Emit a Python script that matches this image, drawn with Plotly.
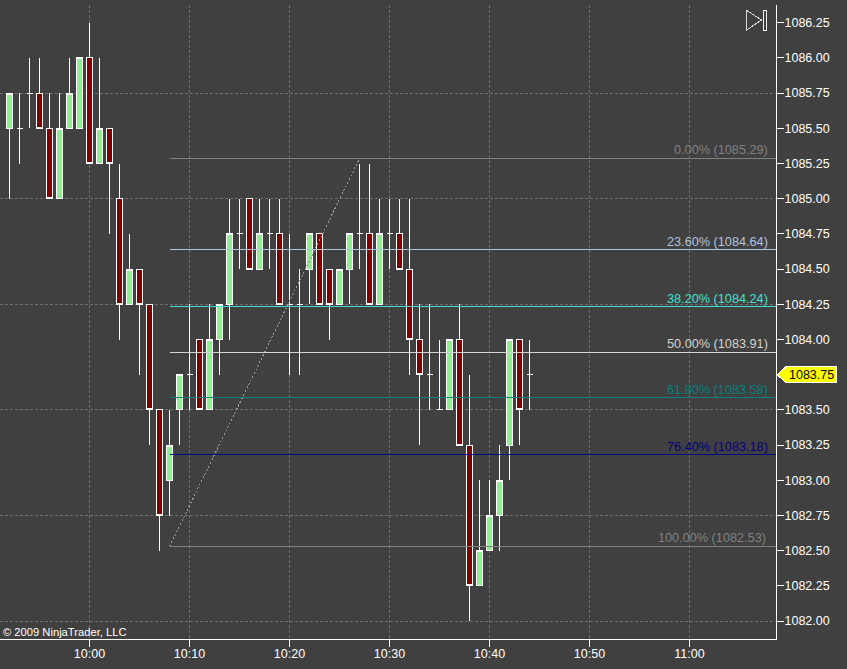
import plotly.graph_objects as go

BG = "#404040"
GRID = "#6e6e6e"
FONT = "Liberation Sans"
DAY = "2009-01-05 "

times = ["09:52","09:53","09:54","09:55","09:56","09:57","09:58","09:59",
         "10:00","10:01","10:02","10:03","10:04","10:05","10:06","10:07","10:08","10:09",
         "10:10","10:11","10:12","10:13","10:14","10:15","10:16","10:17","10:18","10:19",
         "10:20","10:21","10:22","10:23","10:24","10:25","10:26","10:27","10:28","10:29",
         "10:30","10:31","10:32","10:33","10:34","10:35","10:36","10:37","10:38","10:39",
         "10:40","10:41","10:42","10:43","10:44"]
opens = [1085.5,1085.5,1085.75,1085.75,1085.5,1085,1085.5,1085.5,
         1086,1085.25,1085.5,1085,1084.25,1084.5,1084.25,1083.5,1083,1083.5,
         1083.75,1084,1083.5,1084,1084.25,1084.75,1085,1084.5,1084.75,1084.75,
         1084.25,1084.25,1084.5,1084.75,1084.5,1084.25,1084.5,1084.75,1084.75,1084.25,
         1084.75,1084.75,1084.5,1084,1083.75,1083.5,1083.5,1084,1083.25,1082.25,
         1082.5,1082.75,1083.25,1084,1083.75]
highs = [1085.75,1085.75,1086,1086,1085.75,1085.75,1086,1086,
         1086.25,1086,1085.5,1085.25,1084.75,1084.5,1084.25,1083.5,1083.5,1083.75,
         1084.25,1084,1084.25,1084.25,1085,1085,1085,1085,1085,1085,
         1084.75,1084.5,1084.75,1084.75,1084.5,1084.5,1084.75,1085.25,1085.25,1085,
         1085,1085,1085,1084.25,1084.25,1084,1084,1084.25,1083.75,1083,
         1083,1083.25,1084,1084,1084]
lows = [1085,1085.25,1085.5,1085.5,1085,1085,1085.5,1085.5,
        1085.25,1085.25,1084.75,1084,1084.25,1083.75,1083.25,1082.5,1082.75,1083.25,
        1083.5,1083.5,1083.5,1083.75,1084,1084.5,1084.5,1084.5,1084.5,1084.25,
        1083.75,1083.75,1084.25,1084.25,1084,1084.25,1084.25,1084.5,1084.25,1084.25,
        1084.5,1084.5,1083.75,1083.25,1083.5,1083.5,1083.5,1083.25,1082,1082.25,
        1082.5,1082.5,1083,1083.25,1083.5]
closes = [1085.75,1085.5,1085.75,1085.5,1085,1085.5,1085.75,1086,
          1085.25,1085.5,1085.25,1084.25,1084.5,1084.25,1083.5,1082.75,1083.25,1083.75,
          1083.75,1083.5,1084,1084.25,1084.75,1084.75,1084.5,1084.75,1084.75,1084.25,
          1084.25,1084.25,1084.75,1084.25,1084.25,1084.5,1084.75,1084.75,1084.25,1084.75,
          1084.75,1084.5,1084,1083.75,1083.75,1083.5,1084,1083.25,1082.25,1082.5,
          1082.75,1083,1084,1083.5,1083.75]

fib_pct = ["0.00%","23.60%","38.20%","50.00%","61.80%","76.40%","100.00%"]
fib_label = [1085.29,1084.64,1084.24,1083.91,1083.58,1083.18,1082.53]
fib_level = [1085.286,1084.639,1084.234,1083.908,1083.588,1083.183,1082.530]
fib_color = ["#808080","#B0C4DE","#40E0D0","#D3D3D3","#008080","#000080","#808080"]
fib_right = [769,769,769,769,769,769,767]
fib_start = "10:08"
swing_times = ["10:08","10:27"]
swing_prices = [1082.53,1085.286]
last_price = 1083.75

x_ticks = ["10:00","10:10","10:20","10:30","10:40","10:50","11:00"]
y_ticks = [1082,1082.25,1082.5,1082.75,1083,1083.25,1083.5,1084,1084.25,1084.5,1084.75,
           1085,1085.25,1085.5,1085.75,1086,1086.25]
y_grid = [1082,1082.75,1083.5,1084.25,1085,1085.75]
x_range = [DAY+"09:51:03", DAY+"11:08:39"]
y_range = [1081.8729, 1086.3757]

W, H = 847, 669
M = dict(l=0, r=71, t=5, b=30)
PW = W-M["l"]-M["r"]

fig = go.Figure()
fig.add_trace(go.Candlestick(
    x=[DAY+t for t in times], open=opens, high=highs, low=lows, close=closes,
    increasing=dict(fillcolor="#90EE90", line=dict(color="#FFFFFF", width=1)),
    decreasing=dict(fillcolor="#800000", line=dict(color="#FFFFFF", width=1)),
    showlegend=False, hoverinfo="skip"))
fig.add_trace(go.Scatter(x=[None], y=[None], yaxis="y2", showlegend=False, hoverinfo="skip"))
fig.add_trace(go.Scatter(
    x=[DAY+t for t in swing_times], y=swing_prices, mode="lines",
    line=dict(color="#9a9a9a", width=1, dash="2px,2px"), showlegend=False, hoverinfo="skip"))
for pct, label, level, col, rx in zip(fib_pct, fib_label, fib_level, fib_color, fib_right):
    fig.add_trace(go.Scatter(
        x=[DAY+fib_start, x_range[1]], y=[level, level], mode="lines",
        line=dict(color=col, width=1), showlegend=False, hoverinfo="skip"))
    fig.add_annotation(xref="paper", yref="y", x=rx/PW, y=level, xanchor="right", yanchor="bottom",
                       text=f"{pct} ({label:.2f})", showarrow=False, borderpad=0,
                       font=dict(family=FONT, size=12.7, color=col))

# price tag at the right of the axis
tag = "M 1 0 L 10 8 L 60 8 L 60 -8 L 10 -8 Z"
fig.add_shape(type="path", xref="paper", yref="y", xsizemode="pixel", ysizemode="pixel",
              xanchor=1, yanchor=last_price, path=tag, fillcolor="#FFFF00",
              line=dict(color="#FFFFFF", width=1), layer="above")
fig.add_annotation(xref="paper", yref="y", x=1, y=last_price, xanchor="left", xshift=12,
                   text=f"{last_price:.2f}", showarrow=False, borderpad=0,
                   font=dict(family=FONT, size=12.5, color="#000000"))

# end-of-data button
fig.add_shape(type="path", xref="paper", yref="paper", xsizemode="pixel", ysizemode="pixel",
              xanchor=1, yanchor=1, path="M -30 -5 L -14.5 -15 L -30 -25.5 Z",
              fillcolor="rgba(0,0,0,0)", line=dict(color="#D8D8D8", width=1), layer="above")
fig.add_shape(type="path", xref="paper", yref="paper", xsizemode="pixel", ysizemode="pixel",
              xanchor=1, yanchor=1, path="M -13 -5.5 L -9.5 -5.5 L -9.5 -25.5 L -13 -25.5 Z",
              fillcolor="rgba(0,0,0,0)", line=dict(color="#F0F0F0", width=1), layer="above")

fig.add_annotation(xref="paper", yref="paper", x=0, y=0, xanchor="left", yanchor="bottom",
                   xshift=2, yshift=0, text="© 2009 NinjaTrader, LLC", showarrow=False, borderpad=0,
                   font=dict(family=FONT, size=11.2, color="#FFFFFF"))

tickfont = dict(family=FONT, size=12.5, color="#FFFFFF")
fig.update_layout(
    width=W, height=H, margin=dict(**M, pad=0, autoexpand=False),
    paper_bgcolor=BG, plot_bgcolor=BG, showlegend=False, boxgap=0.4, boxgroupgap=0,
    xaxis=dict(type="date", range=x_range, tickmode="array", tickvals=[DAY+t for t in x_ticks],
               ticktext=x_ticks, rangeslider=dict(visible=False), showgrid=True, gridcolor=GRID,
               griddash="3px,2px", gridwidth=1, showline=True, linecolor="#FFFFFF", linewidth=1,
               ticks="outside", ticklen=7, tickcolor="#FFFFFF", tickwidth=1, tickfont=tickfont,
               zeroline=False, ticklabelstandoff=-4),
    yaxis=dict(range=y_range, side="right", tickmode="array", tickvals=y_ticks,
               ticktext=[f"{v:.2f}" for v in y_ticks], showgrid=False, showline=True,
               linecolor="#FFFFFF", linewidth=1, ticks="outside", ticklen=7, tickcolor="#FFFFFF",
               tickwidth=1, tickfont=tickfont, zeroline=False, ticklabelstandoff=-2),
    yaxis2=dict(range=y_range, overlaying="y", side="right", tickmode="array", tickvals=y_grid,
                showticklabels=False, ticks="", showgrid=True, gridcolor=GRID, griddash="3px,2px",
                gridwidth=1, zeroline=False, showline=False),
)
fig.write_html("out.html", config=dict(displayModeBar=False),
               post_script="document.body.style.margin='0';"
                           "var s=document.createElement('style');"
                           "s.textContent='.main-svg path{shape-rendering:crispEdges}';"
                           "document.head.appendChild(s);")
